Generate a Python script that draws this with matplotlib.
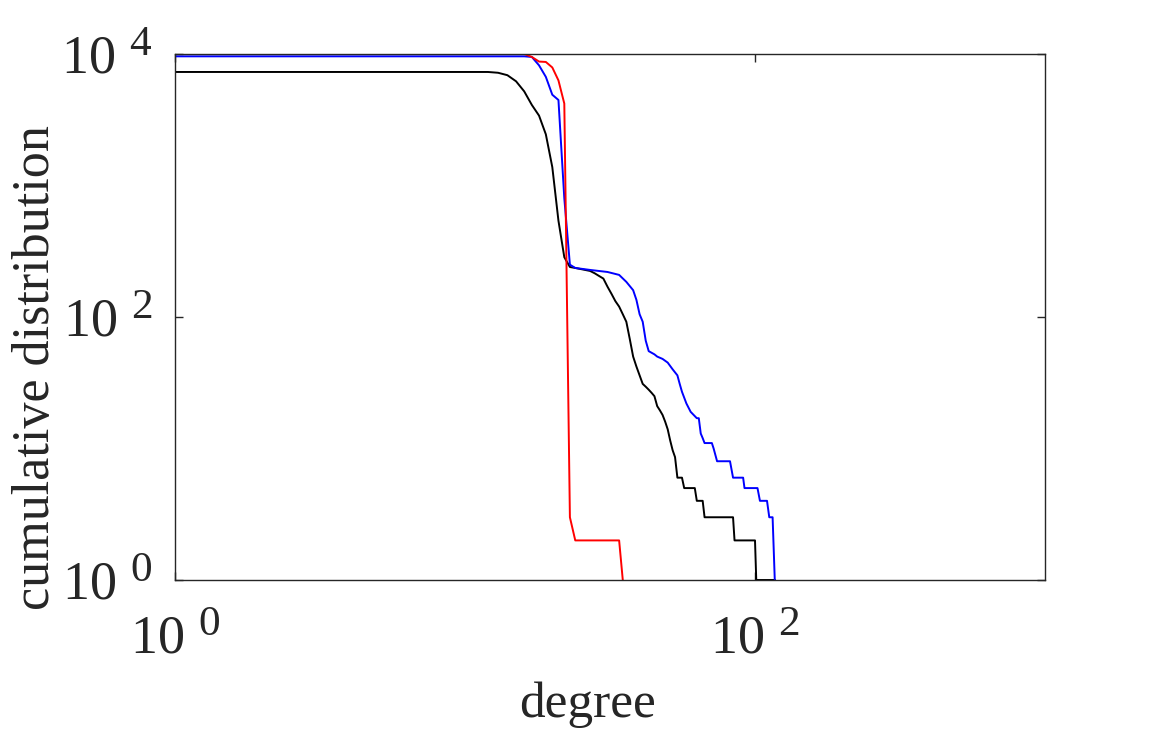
import matplotlib
matplotlib.use("Agg")
import matplotlib.pyplot as plt
from matplotlib.ticker import FixedLocator, FixedFormatter, NullLocator
import matplotlib._mathtext as _mt

# slightly larger superscripts, closer to the reference's exponent size
if hasattr(_mt, 'SHRINK_FACTOR'):
    _mt.SHRINK_FACTOR = 0.8

plt.rcParams['font.family'] = ['Liberation Serif', 'DejaVu Serif']
plt.rcParams['mathtext.fontset'] = 'custom'
plt.rcParams['mathtext.rm'] = 'Liberation Serif'
plt.rcParams['mathtext.it'] = 'Liberation Serif:italic'
plt.rcParams['mathtext.bf'] = 'Liberation Serif:bold'

# ---- data (degree k, number of nodes with degree >= k) ----
black_deg = [1, 12, 13, 14, 15, 16, 17, 18, 19, 20, 21, 22, 23, 24, 27, 28, 29, 30, 31, 32,
             33, 34, 35, 36, 37, 38, 39, 40, 41, 42, 43, 44, 45, 46, 47, 48, 49, 50, 51, 52,
             53, 54, 56, 57, 62, 63, 66, 67, 84, 85, 100, 101, 117]
black_cnt = [7300, 7300, 7200, 6900, 6200, 5200, 4100, 3400, 2450, 1380, 540, 285, 240, 236,
             224, 215, 205, 196, 170, 150, 132, 120, 105, 92, 68, 50, 42, 36, 31, 29.5, 28,
             26.5, 25, 21, 19.5, 18, 16, 14, 11.5, 9.7, 8.6, 6, 6, 5, 5, 4, 4, 3, 3, 2, 2, 1, 1]

blue_deg = [1, 16, 17, 18, 19, 20, 21, 22, 23, 24, 27, 31, 34, 36, 38, 39, 40, 41, 42, 43,
            45, 46, 48, 50, 52, 54, 55, 56, 58, 60, 63, 64, 65, 66, 67, 71, 72, 74, 82, 84,
            91, 92, 102, 104, 110, 112, 115, 117]
blue_cnt = [9600, 9600, 9500, 8200, 6700, 4900, 4470, 800, 250, 236, 228, 220, 209, 185,
            160, 135, 105, 92, 66, 55, 52, 50, 48, 45, 40, 36, 31, 27, 22, 19, 17, 17, 13,
            12, 11, 11, 10, 8, 8, 6, 6, 5, 5, 4, 4, 3, 3, 1]

red_deg = [1, 16, 17, 18, 19, 20, 21, 22, 23, 24, 34, 35]
red_cnt = [10000, 10000, 9500, 8760, 8700, 7900, 6300, 4200, 3, 2, 2, 1]

x_ticks = [1, 100]
x_tick_labels = [r'$\mathregular{10^{\;\,0}}$', r'$\mathregular{10^{\;\,2}}$']
y_ticks = [1, 100, 10000]
y_tick_labels = [r'$\mathregular{10^{\;\,0}}$', r'$\mathregular{10^{\;\,2}}$',
                 r'$\mathregular{10^{\;\,4}}$']

W, H = 1155, 736
fig = plt.figure(figsize=(W / 100, H / 100), dpi=100)
ax = fig.add_axes([175 / W, 1 - 580 / H, 870 / W, 526 / H])

axis_col = '#262626'
lw = 1.4
ax.plot(black_deg, black_cnt, color='black', lw=lw)
ax.plot(blue_deg, blue_cnt, color='#0000ff', lw=lw)
ax.plot(red_deg, red_cnt, color='#ff0000', lw=lw)

ax.set_xscale('log')
ax.set_yscale('log')
ax.set_xlim(1, 1000)
ax.set_ylim(1, 10000)

ax.xaxis.set_major_locator(FixedLocator(x_ticks))
ax.xaxis.set_major_formatter(FixedFormatter(x_tick_labels))
ax.yaxis.set_major_locator(FixedLocator(y_ticks))
ax.yaxis.set_major_formatter(FixedFormatter(y_tick_labels))
ax.xaxis.set_minor_locator(NullLocator())
ax.yaxis.set_minor_locator(NullLocator())

ax.tick_params(which='major', direction='in', length=6, width=1.0, color=axis_col,
               top=True, right=True, labelsize=39, labelcolor=axis_col)
ax.tick_params(axis='x', pad=25)
ax.tick_params(axis='y', pad=16)
for s in ax.spines.values():
    s.set_color(axis_col)
    s.set_linewidth(1.0)

ax.set_xlabel('degree', fontsize=37, color=axis_col)
ax.xaxis.set_label_coords((587.5 - 175) / 870, (580 - 681) / 526)
ax.set_ylabel('cumulative distribution', fontsize=37.5, color=axis_col)
ax.yaxis.set_label_coords((60 - 175) / 870, (580 - 367.5) / 526)

fig.savefig('out.png', dpi=100)
